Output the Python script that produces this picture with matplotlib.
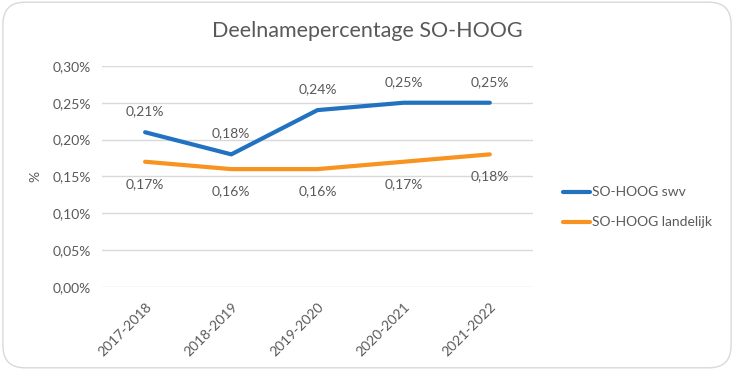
import matplotlib
matplotlib.use("Agg")
import matplotlib.pyplot as plt
from matplotlib.patches import FancyBboxPatch
from matplotlib.ticker import FuncFormatter, MultipleLocator

categories = ["2017-2018", "2018-2019", "2019-2020", "2020-2021", "2021-2022"]
swv = [0.21, 0.18, 0.24, 0.25, 0.25]
landelijk = [0.17, 0.16, 0.16, 0.17, 0.18]
series_names = ["SO-HOOG swv", "SO-HOOG landelijk"]
title = "Deelnamepercentage SO-HOOG"

plt.rcParams['font.family'] = ['Lato', 'DejaVu Sans']
text_color = '#595959'

fig = plt.figure(figsize=(7.34, 3.70), dpi=100)
fig.patch.set_facecolor('white')
border = FancyBboxPatch((0.004, 0.006), 0.992, 0.988, boxstyle="round,pad=0,rounding_size=0.03",
                        transform=fig.transFigure, facecolor='white', edgecolor='#d9d9d9', linewidth=1.0,
                        mutation_aspect=734/370, zorder=-10)
fig.patches.append(border)

ax = fig.add_axes([0.139, 0.224, 0.587, 0.598])
ax.set_facecolor('none')
x = list(range(len(categories)))
blue = '#2172C0'
orange = '#F7931E'
ax.plot(x, swv, color=blue, lw=3, solid_capstyle='round', solid_joinstyle='round', label=series_names[0], zorder=3)
ax.plot(x, landelijk, color=orange, lw=3, solid_capstyle='round', solid_joinstyle='round', label=series_names[1], zorder=3)

fmt = lambda v: f"{v:.2f}%".replace('.', ',')
for xi, v in zip(x, swv):
    ax.annotate(fmt(v), (xi, v), xytext=(0, 15), textcoords='offset points', ha='center', va='center',
                fontsize=10, color=text_color)
for xi, v in zip(x, landelijk):
    ax.annotate(fmt(v), (xi, v), xytext=(0, -16), textcoords='offset points', ha='center', va='center',
                fontsize=10, color=text_color)

ax.set_xlim(-0.5, len(categories) - 0.5)
ax.set_ylim(0, 0.30)
ax.yaxis.set_major_locator(MultipleLocator(0.05))
ax.yaxis.set_major_formatter(FuncFormatter(lambda v, p: fmt(v)))
ax.grid(axis='y', color='#d9d9d9', lw=1)
ax.set_axisbelow(True)
for s in ax.spines.values():
    s.set_visible(False)
ax.tick_params(axis='both', length=0, labelsize=10, labelcolor=text_color)
ax.tick_params(axis='y', pad=8)
ax.set_xticks(x)
ax.set_xticklabels(categories, rotation=45, ha='right', rotation_mode='anchor')
ax.tick_params(axis='x', pad=10)
ax.set_ylabel('%', fontsize=10, color=text_color, labelpad=8)

fig.text(0.5, 0.915, title, ha='center', va='center', fontsize=15.5, color=text_color)

leg = ax.legend(loc='center left', bbox_to_anchor=(1.04, 0.36), frameon=False, fontsize=10,
                handlelength=2.0, handletextpad=0.15, labelspacing=1.3, labelcolor=text_color)

fig.savefig('out.png', dpi=100, facecolor='white')
